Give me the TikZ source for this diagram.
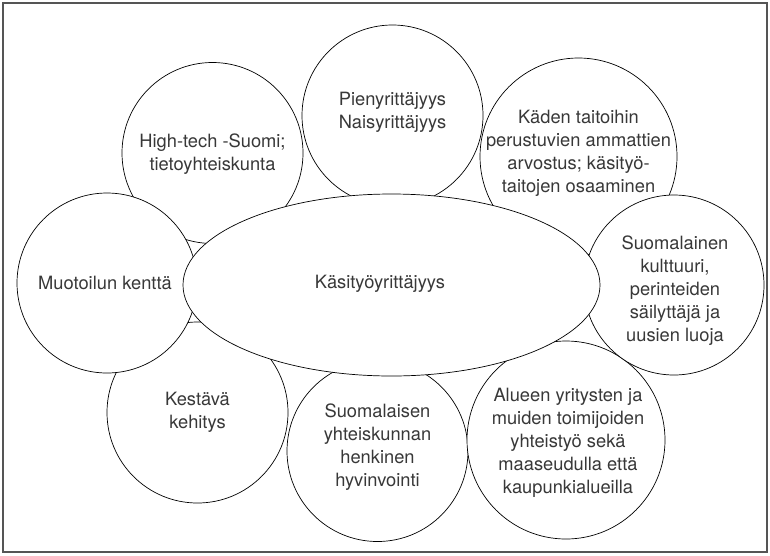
\documentclass[tikz,border=0pt]{standalone}
\usepackage{fontspec}
\setmainfont{TeX Gyre Heros}
\usetikzlibrary{shapes.geometric}
\definecolor{textgray}{HTML}{383838}
\definecolor{framegray}{HTML}{555555}
\begin{document}
\begin{tikzpicture}[x=1pt,y=-1pt,
  bubble/.style={circle,draw=black,line width=0.7pt,fill=white,inner sep=0pt,outer sep=0pt,minimum size=#1},
  hub/.style={ellipse,draw=black,line width=0.7pt,fill=white,inner sep=0pt,minimum width=417pt,minimum height=182pt},
  caption/.style={align=center,text=textgray,inner sep=0pt,font=\fontsize{18.3}{23}\selectfont}]
\useasboundingbox (0,0) rectangle (770,555);
\draw[framegray,line width=1.2pt] (3,3) rectangle (767,552);

% outer circles, back layer
\node[bubble=181pt] (tech)   at (212.5,153) {};
\node[bubble=181pt] (pien)   at (392.5,115.5) {};
\node[bubble=197pt] (kaden)  at (578.5,156.5) {};
\node[bubble=181pt] (kest)   at (197.5,412.5) {};
\node[bubble=181pt] (henk)   at (377.5,451) {};
\node[bubble=198pt] (alue)   at (566,440) {};
% outer circles, front layer
\node[bubble=180pt] (muoto)  at (107,283) {};
\node[bubble=180pt] (kult)   at (674,285) {};
% central ellipse
\node[hub] (core) at (391.5,285) {};

% texts
\node[caption] (t-core)  at (380,284) {Käsityöyrittäjyys};
\node[caption] (t-tech)  at (212.5,154) {High-tech -Suomi;\\tietoyhteiskunta};
\node[caption] (t-pien)  at (392.5,112) {Pienyrittäjyys\\Naisyrittäjyys};
\node[caption] (t-kaden) at (578.5,153) {Käden taitoihin\\perustuvien ammattien\\arvostus; käsityö-\\taitojen osaaminen};
\node[caption] (t-muoto) at (105,283) {Muotoilun kenttä};
\node[caption] (t-kult)  at (675,291) {Suomalainen\\kulttuuri,\\perinteiden\\säilyttäjä ja\\uusien luoja};
\node[caption] (t-kest)  at (197.5,412) {Kestävä\\kehitys};
\node[caption] (t-henk)  at (377.5,447) {Suomalaisen\\yhteiskunnan\\henkinen\\hyvinvointi};
\node[caption] (t-alue)  at (568,443) {Alueen yritysten ja\\muiden toimijoiden\\yhteistyö sekä\\maaseudulla että\\kaupunkialueilla};
\end{tikzpicture}
\end{document}
